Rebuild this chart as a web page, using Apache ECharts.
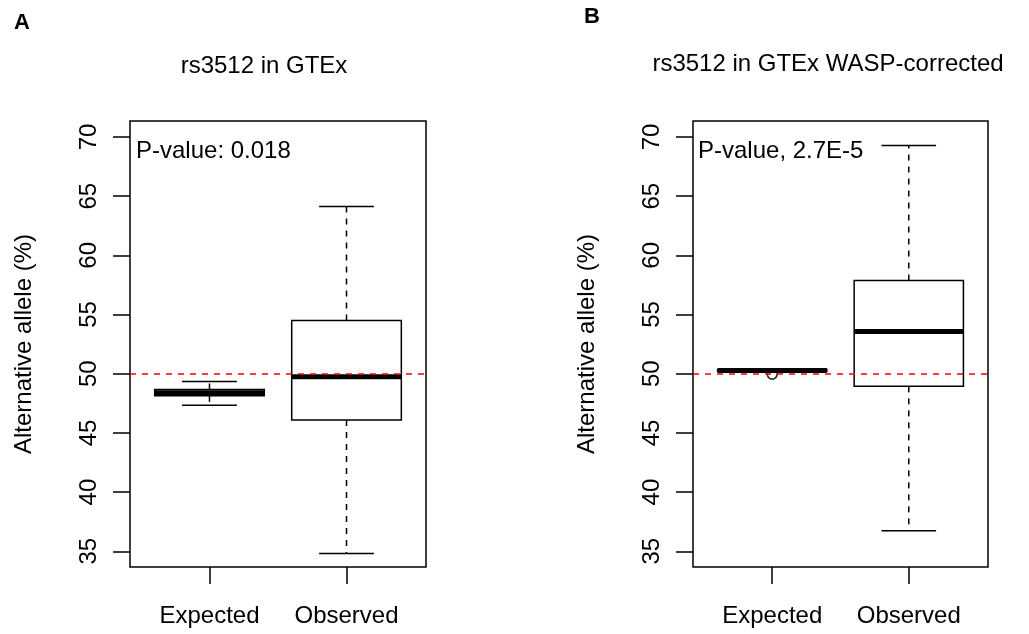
<!DOCTYPE html>
<html>
<head>
<meta charset="utf-8">
<title>rs3512 allele</title>
<script src="https://cdn.jsdelivr.net/npm/echarts@6/dist/echarts.min.js"></script>
<style>
  html, body { margin: 0; padding: 0; background: #fff; }
  #main { width: 1029px; height: 634px; }
</style>
</head>
<body>
<div id="main"></div>
<script>
// categories and box stats: [lower whisker, q1, median, q3, upper whisker]
const categories = ['Expected', 'Observed'];
const gtexBoxes = [
  [47.33, 48.13, 48.4, 48.67, 49.35],
  [34.82, 46.09, 49.75, 54.49, 64.13]
];
const waspBoxes = [
  [50.2, 50.2, 50.28, 50.36, 50.36],
  [36.73, 48.93, 53.57, 57.87, 69.27]
];
const gtexOutliers = [];
const waspOutliers = [[1, 49.97]];
const yTicks = [35, 40, 45, 50, 55, 60, 65, 70];
const xTicks = [1, 2];
const refLine = 50;

const FONT = 'Liberation Sans, Arial, sans-serif';
const FS = 24;

function boxItem(params, api) {
  const x = api.value(0);
  const lo = api.coord([x, api.value(1)]);
  const q1 = api.coord([x, api.value(2)]);
  const med = api.coord([x, api.value(3)]);
  const q3 = api.coord([x, api.value(4)]);
  const hi = api.coord([x, api.value(5)]);
  const half = api.size([0.4, 0])[0];
  const staple = api.size([0.2, 0])[0];
  const cx = med[0];
  const solid = { stroke: '#000', lineWidth: 1.5, fill: null };
  const dashed = { stroke: '#000', lineWidth: 1.5, lineDash: [6, 6] };
  return {
    type: 'group',
    children: [
      { type: 'line', shape: { x1: cx, y1: q3[1], x2: cx, y2: hi[1] }, style: dashed },
      { type: 'line', shape: { x1: cx, y1: q1[1], x2: cx, y2: lo[1] }, style: dashed },
      { type: 'line', shape: { x1: cx - staple, y1: hi[1], x2: cx + staple, y2: hi[1] }, style: solid },
      { type: 'line', shape: { x1: cx - staple, y1: lo[1], x2: cx + staple, y2: lo[1] }, style: solid },
      { type: 'rect', shape: { x: cx - half, y: q3[1], width: half * 2, height: q1[1] - q3[1] },
        style: { stroke: '#000', lineWidth: 1.5, fill: '#fff' } },
      { type: 'line', shape: { x1: cx - half, y1: med[1], x2: cx + half, y2: med[1] },
        style: { stroke: '#000', lineWidth: 5 } }
    ]
  };
}

function makeX(idx) {
  return {
    type: 'value', gridIndex: idx, min: 0.42, max: 2.58,
    axisLine: { show: false },
    splitLine: { show: false },
    axisTick: { show: true, customValues: xTicks, length: 17, lineStyle: { color: '#000', width: 1.5 } },
    axisLabel: {
      customValues: xTicks, formatter: v => categories[v - 1] || '',
      fontFamily: FONT, fontSize: FS, color: '#000', margin: 37, lineHeight: 24
    }
  };
}

function makeY(idx) {
  return {
    type: 'value', gridIndex: idx, min: 33.67, max: 71.35,
    name: 'Alternative allele (%)', nameLocation: 'middle', nameGap: 94,
    nameTextStyle: { fontFamily: FONT, fontSize: FS, color: '#000', lineHeight: 24 },
    axisLine: { show: false },
    splitLine: { show: false },
    axisTick: { show: true, customValues: yTicks, length: 17, lineStyle: { color: '#000', width: 1.5 } },
    axisLabel: {
      customValues: yTicks, rotate: 90,
      fontFamily: FONT, fontSize: FS, color: '#000', margin: 29, lineHeight: 24
    }
  };
}

function boxSeries(idx, boxes) {
  return {
    type: 'custom', xAxisIndex: idx, yAxisIndex: idx,
    renderItem: boxItem,
    encode: { x: 0, y: [1, 2, 3, 4, 5] },
    data: boxes.map((b, i) => [xTicks[i]].concat(b)),
    clip: false,
    markLine: {
      silent: true, symbol: 'none', z: 10,
      label: { show: false },
      lineStyle: { color: '#ff0000', type: [6, 6], width: 1.5 },
      data: [{ yAxis: refLine }]
    }
  };
}

function outlierSeries(idx, pts) {
  return {
    type: 'scatter', xAxisIndex: idx, yAxisIndex: idx,
    symbol: 'circle', symbolSize: 10, z: 5,
    itemStyle: { color: 'rgba(0,0,0,0)', borderColor: '#000', borderWidth: 1.8 },
    data: pts
  };
}

function txt(x, y, s, opts) {
  return {
    type: 'text', x: x, y: y, silent: true,
    style: Object.assign({
      text: s, fontFamily: FONT, fontSize: FS, fill: '#000',
      textAlign: 'center', textVerticalAlign: 'middle'
    }, opts || {})
  };
}

const chart = echarts.init(document.getElementById('main'), null, { renderer: 'canvas' });
chart.setOption({
  backgroundColor: '#fff',
  animation: false,
  grid: [
    { left: 130, top: 121, width: 296, height: 446, show: true, borderColor: '#000', borderWidth: 1.5, backgroundColor: 'transparent' },
    { left: 693, top: 121, width: 295, height: 446, show: true, borderColor: '#000', borderWidth: 1.5, backgroundColor: 'transparent' }
  ],
  xAxis: [makeX(0), makeX(1)],
  yAxis: [makeY(0), makeY(1)],
  series: [
    boxSeries(0, gtexBoxes),
    outlierSeries(0, gtexOutliers),
    boxSeries(1, waspBoxes),
    outlierSeries(1, waspOutliers)
  ],
  graphic: [
    txt(22, 23, 'A', { fontWeight: 'bold', fontSize: 22 }),
    txt(592, 17, 'B', { fontWeight: 'bold', fontSize: 22 }),
    txt(264, 66, 'rs3512 in GTEx'),
    txt(828, 64, 'rs3512 in GTEx WASP-corrected'),
    txt(136, 151, 'P-value: 0.018', { textAlign: 'left' }),
    txt(698, 151, 'P-value, 2.7E-5', { textAlign: 'left' })
  ]
});
window.addEventListener('resize', function () { chart.resize(); });
</script>
</body>
</html>
